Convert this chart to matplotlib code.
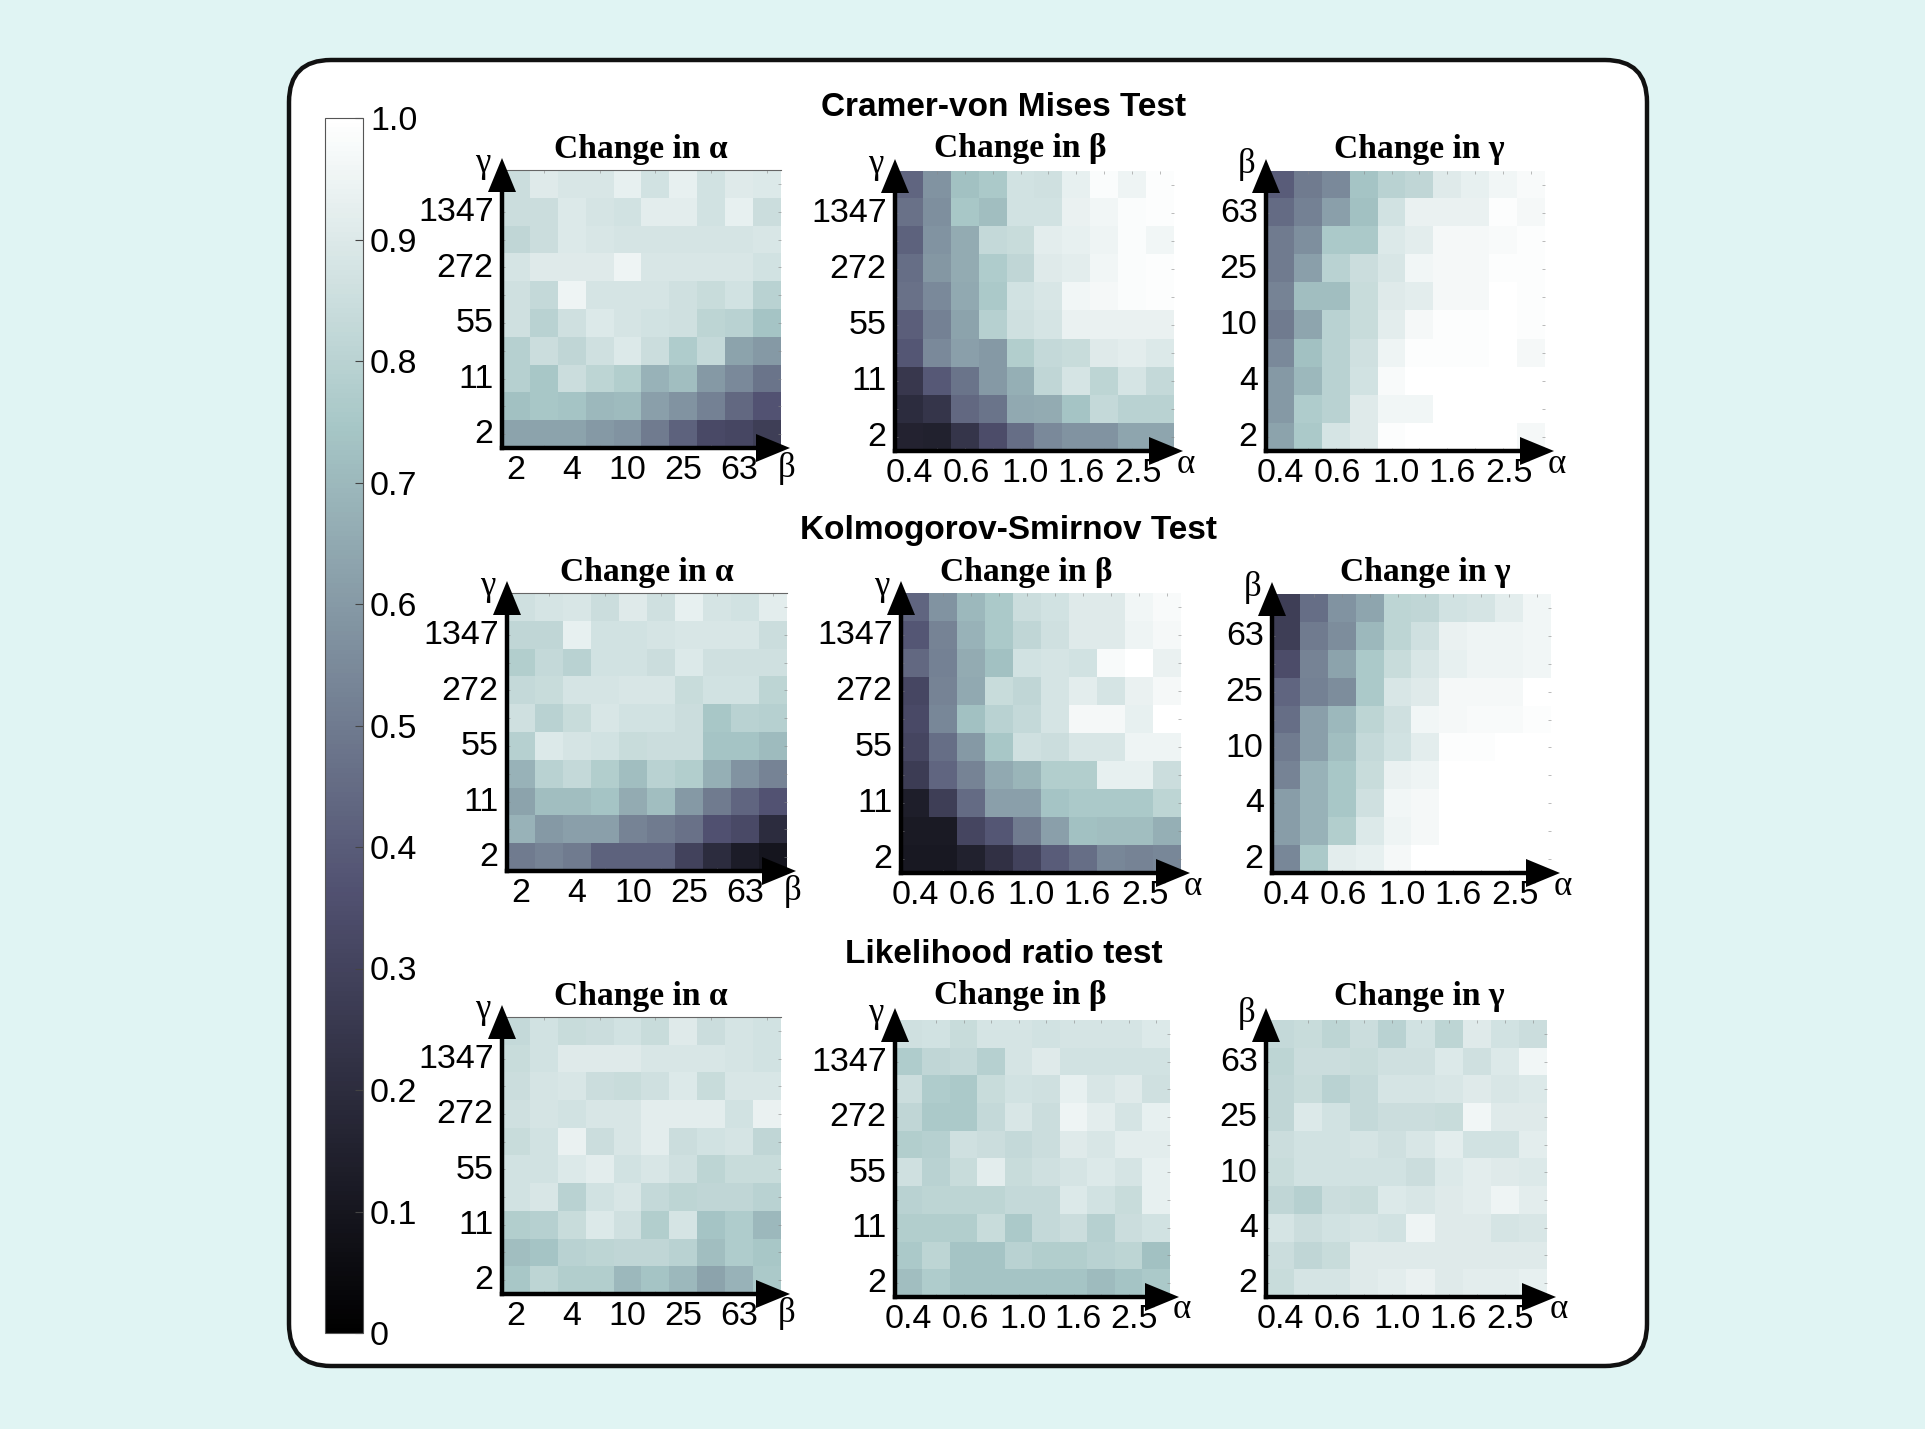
#!/usr/bin/env python
# coding: utf-8
"""
Grid of goodness of fit power heatmaps for three tests, with one shared colorbar.
"""

import numpy as np
import matplotlib
matplotlib.use('Agg')
import matplotlib.pyplot as plt
from matplotlib.cm import ScalarMappable
from matplotlib.colors import Normalize
from matplotlib.patches import FancyBboxPatch, Polygon

WIDTH, HEIGHT = 1925, 1429
BG_COLOR = '#e0f4f3'

test_names = ['Cramer-von Mises Test', 'Kolmogorov-Smirnov Test', 'Likelihood ratio test']
change_names = ['Change in α', 'Change in β', 'Change in γ']

beta_ticks = ['2', '4', '10', '25', '63']
alpha_ticks = ['0.4', '0.6', '1.0', '1.6', '2.5']
gamma_ticks = ['2', '11', '55', '272', '1347']
beta_yticks = ['2', '4', '10', '25', '63']
cbar_ticks = [0, 0.1, 0.2, 0.3, 0.4, 0.5, 0.6, 0.7, 0.8, 0.9, 1.0]
cbar_labels = ['0', '0.1', '0.2', '0.3', '0.4', '0.5', '0.6', '0.7', '0.8', '0.9', '1.0']

# Rows run from the top of each panel to the bottom.
cvm_alpha = [[.85, .91, .89, .89, .93, .87, .93, .87, .91, .90],
             [.85, .85, .90, .88, .87, .92, .92, .87, .93, .85],
             [.82, .85, .90, .89, .88, .88, .88, .88, .88, .89],
             [.88, .91, .91, .91, .95, .89, .89, .89, .89, .87],
             [.86, .83, .95, .88, .88, .88, .86, .84, .87, .80],
             [.86, .80, .86, .90, .88, .87, .86, .81, .80, .74],
             [.79, .85, .82, .86, .90, .85, .77, .83, .63, .60],
             [.79, .75, .85, .81, .78, .68, .72, .60, .55, .48],
             [.73, .75, .74, .70, .71, .62, .58, .52, .44, .37],
             [.63, .63, .63, .60, .58, .50, .42, .33, .32, .28]]
cvm_beta = [[.43, .58, .73, .76, .87, .86, .93, .985, .95, .99],
            [.47, .57, .75, .72, .87, .87, .94, .96, .985, .99],
            [.42, .58, .66, .83, .84, .92, .93, .95, .985, .96],
            [.46, .59, .66, .77, .82, .91, .92, .96, .985, .99],
            [.47, .55, .65, .76, .87, .89, .96, .97, .985, .99],
            [.41, .52, .63, .79, .86, .88, .94, .94, .94, .94],
            [.38, .55, .62, .60, .78, .83, .84, .91, .92, .90],
            [.25, .39, .48, .60, .67, .82, .88, .81, .88, .83],
            [.20, .24, .44, .48, .65, .66, .74, .83, .80, .80],
            [.16, .15, .24, .34, .46, .55, .58, .58, .64, .64]]
cvm_gamma = [[.40, .50, .55, .74, .80, .82, .91, .93, .96, .98],
             [.45, .52, .62, .73, .87, .94, .94, .94, .99, .97],
             [.50, .57, .76, .76, .90, .92, .97, .97, .98, .99],
             [.50, .62, .80, .85, .89, .96, .97, .97, .99, .99],
             [.53, .72, .72, .84, .91, .92, .97, .97, 1.0, .99],
             [.50, .64, .80, .84, .92, .97, .99, .99, 1.0, .99],
             [.55, .73, .80, .86, .95, .99, .99, .99, 1.0, .97],
             [.60, .70, .80, .87, .98, 1.0, 1.0, 1.0, 1.0, 1.0],
             [.60, .77, .80, .91, .96, .96, 1.0, 1.0, 1.0, 1.0],
             [.63, .76, .88, .91, .99, 1.0, 1.0, 1.0, 1.0, .97]]

ks_alpha = [[.86, .88, .89, .85, .91, .86, .93, .88, .87, .92],
            [.82, .82, .93, .87, .87, .88, .89, .89, .89, .85],
            [.78, .83, .80, .87, .87, .85, .90, .86, .86, .86],
            [.83, .84, .88, .88, .89, .89, .84, .87, .87, .81],
            [.86, .80, .84, .89, .87, .87, .85, .75, .80, .79],
            [.79, .90, .88, .87, .84, .85, .85, .74, .74, .71],
            [.68, .80, .83, .78, .72, .80, .78, .67, .58, .53],
            [.63, .72, .72, .74, .66, .72, .60, .50, .43, .37],
            [.68, .60, .62, .62, .53, .50, .47, .36, .33, .20],
            [.50, .53, .50, .42, .42, .42, .30, .20, .13, .10]]
ks_beta = [[.43, .58, .70, .76, .85, .87, .91, .91, .96, .98],
           [.38, .53, .68, .76, .82, .86, .91, .91, .95, .97],
           [.44, .52, .66, .73, .87, .88, .87, .98, 1.0, .94],
           [.32, .53, .65, .84, .82, .88, .92, .88, .94, .97],
           [.33, .54, .73, .80, .83, .88, .97, .97, .93, 1.0],
           [.31, .46, .60, .75, .86, .85, .89, .89, .95, .95],
           [.27, .43, .53, .65, .69, .78, .78, .93, .93, .85],
           [.14, .28, .45, .62, .62, .74, .76, .76, .76, .81],
           [.12, .12, .31, .38, .50, .62, .73, .72, .72, .67],
           [.11, .11, .15, .22, .30, .40, .46, .54, .53, .54]]
ks_gamma = [[.28, .46, .58, .64, .81, .82, .87, .88, .92, .96],
            [.28, .50, .56, .70, .81, .86, .94, .95, .95, .96],
            [.34, .53, .63, .76, .84, .89, .93, .95, .95, .96],
            [.43, .52, .56, .76, .89, .91, .97, .97, .97, 1.0],
            [.46, .62, .70, .81, .86, .96, .97, .98, .98, .99],
            [.50, .62, .72, .83, .87, .92, .99, .99, 1.0, 1.0],
            [.53, .68, .75, .84, .94, .95, 1.0, 1.0, 1.0, 1.0],
            [.61, .68, .75, .86, .96, .97, 1.0, 1.0, 1.0, 1.0],
            [.61, .68, .78, .90, .95, .97, 1.0, 1.0, 1.0, 1.0],
            [.54, .76, .92, .93, .97, 1.0, 1.0, 1.0, 1.0, 1.0]]

lr_alpha = [[.83, .87, .84, .85, .87, .84, .91, .85, .88, .87],
            [.84, .87, .91, .91, .91, .89, .89, .89, .88, .87],
            [.85, .88, .89, .85, .84, .86, .90, .84, .89, .89],
            [.86, .88, .87, .89, .89, .92, .92, .92, .87, .94],
            [.84, .87, .94, .85, .89, .92, .85, .87, .88, .82],
            [.87, .87, .90, .92, .87, .89, .86, .81, .84, .84],
            [.87, .89, .80, .87, .89, .83, .81, .82, .82, .80],
            [.78, .79, .84, .90, .86, .78, .88, .74, .77, .70],
            [.72, .74, .80, .81, .82, .82, .80, .72, .77, .75],
            [.75, .81, .78, .78, .70, .74, .70, .63, .68, .76]]
lr_beta = [[.86, .87, .84, .88, .88, .87, .88, .88, .88, .90],
           [.77, .82, .83, .79, .88, .91, .87, .87, .87, .87],
           [.85, .77, .76, .84, .87, .86, .93, .89, .91, .86],
           [.82, .76, .76, .83, .89, .85, .95, .92, .88, .93],
           [.78, .79, .86, .85, .83, .85, .91, .89, .92, .92],
           [.86, .80, .84, .92, .84, .86, .88, .90, .88, .93],
           [.80, .81, .81, .81, .83, .83, .90, .87, .84, .93],
           [.78, .78, .78, .84, .76, .83, .85, .79, .85, .87],
           [.76, .81, .74, .74, .80, .78, .78, .80, .81, .73],
           [.72, .77, .74, .74, .74, .74, .74, .71, .74, .76]]
lr_gamma = [[.83, .84, .81, .85, .80, .87, .81, .91, .87, .85],
            [.81, .85, .85, .84, .86, .86, .90, .86, .90, .96],
            [.82, .84, .80, .83, .88, .88, .89, .91, .89, .90],
            [.82, .90, .87, .83, .85, .85, .84, .96, .91, .91],
            [.85, .87, .87, .88, .86, .89, .92, .87, .87, .92],
            [.84, .87, .87, .87, .87, .85, .90, .92, .91, .90],
            [.82, .79, .85, .84, .90, .89, .91, .92, .95, .92],
            [.88, .85, .87, .88, .87, .95, .91, .91, .88, .89],
            [.85, .82, .84, .91, .91, .91, .91, .91, .91, .91],
            [.84, .88, .88, .91, .92, .94, .91, .92, .92, .93]]

panel_values = [[cvm_alpha, cvm_beta, cvm_gamma],
                [ks_alpha, ks_beta, ks_gamma],
                [lr_alpha, lr_beta, lr_gamma]]

# Panel boxes in image pixels: left, right, top, bottom
panel_boxes = [[(502, 781, 170, 448), (895, 1174, 171, 451), (1266, 1545, 171, 451)],
               [(507, 787, 593, 871), (901, 1181, 593, 873), (1272, 1551, 594, 873)],
               [(502, 781, 1017, 1294), (895, 1170, 1020, 1297), (1266, 1547, 1020, 1297)]]
title_pos = [(1004, 107), (1009, 530), (1004, 954)]
subtitle_pos = [[(641, 149), (1020, 148), (1419, 149)],
                [(647, 572), (1026, 572), (1425, 572)],
                [(641, 996), (1020, 995), (1419, 996)]]


def px_axes(fig, left, right, top, bottom):
    return fig.add_axes([left/WIDTH, 1 - bottom/HEIGHT, (right - left)/WIDTH, (bottom - top)/HEIGHT])
# end func


def draw_panel(fig, canvas, values, box, col):
    left, right, top, bottom = box
    ax = px_axes(fig, left, right, top, bottom)
    ax.imshow(np.array(values), cmap='bone', vmin=0, vmax=1, aspect='auto', interpolation='nearest')

    ax.set_xticks(np.arange(10), minor=True)
    ax.set_yticks(np.arange(10), minor=True)
    ax.tick_params(which='minor', direction='in', length=2.5, width=0.4, color='#888888',
                   top=True, right=True, bottom=True, left=True)

    ax.set_xticks([0, 2, 4, 6, 8] if col == 0 else [0, 2.05, 4.15, 6.15, 8.2])
    ax.set_xticklabels(beta_ticks if col == 0 else alpha_ticks)
    ax.set_yticks([8.9, 6.9, 4.9, 2.9, 0.9])
    ax.set_yticklabels(beta_yticks if col == 2 else gamma_ticks)
    ax.tick_params(which='major', length=0, labelsize=24.5, pad=5)
    ax.tick_params(axis='y', which='major', pad=6)

    for name in ['left', 'bottom']:
        ax.spines[name].set_linewidth(3.2)
        ax.spines[name].set_color('black')
    # end for
    ax.spines['right'].set_visible(False)
    ax.spines['top'].set_linewidth(0.8)
    ax.spines['top'].set_color('#666666')
    ax.spines['top'].set_visible(col == 0)

    # Arrow heads on both axes
    canvas.add_patch(Polygon([(left - 14, top + 22), (left + 14, top + 22), (left, top - 12)],
                             closed=True, color='black', lw=0))
    canvas.add_patch(Polygon([(right - 25, bottom - 14), (right - 25, bottom + 14), (right + 9, bottom)],
                             closed=True, color='black', lw=0))

    x_name = 'β' if col == 0 else 'α'
    y_name = 'β' if col == 2 else 'γ'
    x_off, y_off = (6, 20) if col == 0 else (12, 13)
    canvas.text(right + x_off, bottom + y_off, x_name, family='Liberation Serif', fontsize=25,
                ha='center', va='center')
    canvas.text(left - 19, top - 7, y_name, family='Liberation Serif', fontsize=25,
                ha='center', va='center')
# end func


def main():
    plt.rcParams['font.family'] = ['Liberation Sans', 'DejaVu Sans']

    fig = plt.figure(figsize=(WIDTH/100, HEIGHT/100), dpi=100, facecolor=BG_COLOR)

    back = fig.add_axes([0, 0, 1, 1], zorder=-1)
    back.set_xlim(0, WIDTH)
    back.set_ylim(HEIGHT, 0)
    back.axis('off')
    back.add_patch(FancyBboxPatch((289, 60), 1358, 1306, boxstyle='round,pad=0,rounding_size=42',
                                  facecolor='white', edgecolor='#111111', linewidth=3.2))

    canvas = fig.add_axes([0, 0, 1, 1], zorder=5)
    canvas.set_xlim(0, WIDTH)
    canvas.set_ylim(HEIGHT, 0)
    canvas.axis('off')
    canvas.patch.set_alpha(0)

    for i, row_values in enumerate(panel_values):
        canvas.text(title_pos[i][0], title_pos[i][1], test_names[i], fontsize=24, fontweight='bold',
                    ha='center', va='center')
        for j, values in enumerate(row_values):
            draw_panel(fig, canvas, values, panel_boxes[i][j], j)
            canvas.text(subtitle_pos[i][j][0], subtitle_pos[i][j][1], change_names[j],
                        family='Liberation Serif', fontsize=24.2, fontweight='bold',
                        ha='center', va='center')
        # end for
    # end for

    cax = px_axes(fig, 325, 363, 118, 1333)
    cbar = fig.colorbar(ScalarMappable(norm=Normalize(0, 1), cmap='bone'), cax=cax, ticks=cbar_ticks)
    cbar.ax.set_yticklabels(cbar_labels)
    cbar.ax.tick_params(direction='in', length=6, width=0.8, color='#444444', labelsize=24.5, pad=5)
    cbar.outline.set_linewidth(0.8)
    cbar.outline.set_edgecolor('#555555')

    fig.savefig('out.png', dpi=100, facecolor=BG_COLOR)
# end func


if __name__ == "__main__":
    main()
# end if
